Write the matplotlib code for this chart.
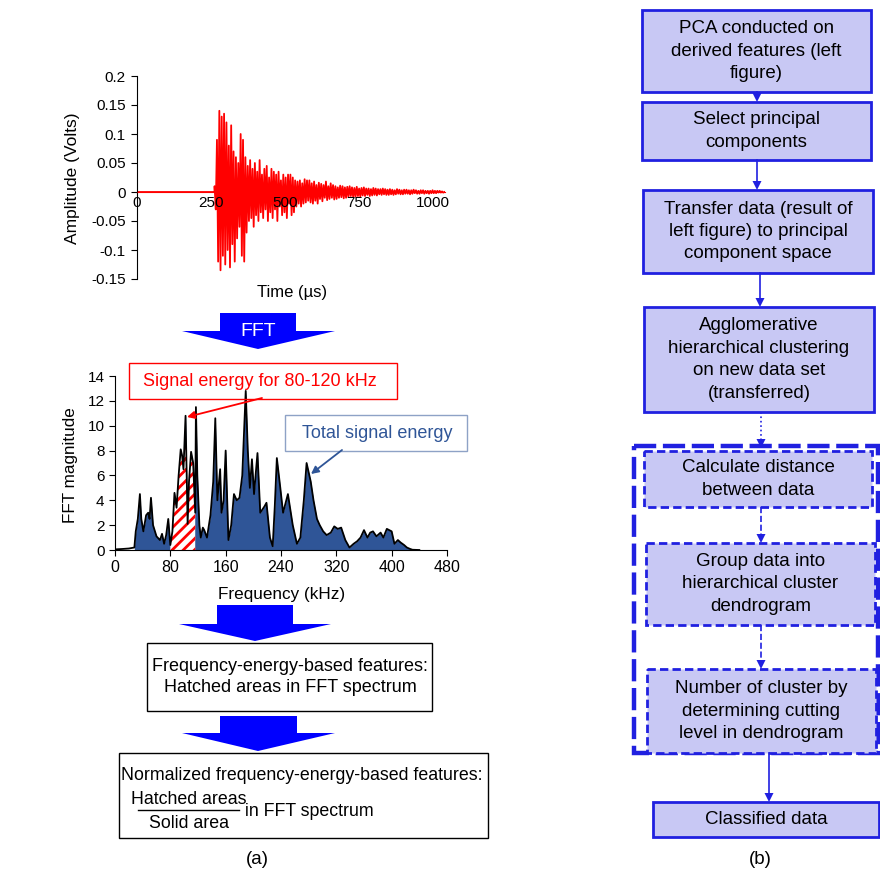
import numpy as np
import matplotlib
matplotlib.use("Agg")
import matplotlib.pyplot as plt
from matplotlib.patches import Polygon, Rectangle, FancyArrowPatch

plt.rcParams['font.family'] = ['Liberation Sans', 'DejaVu Sans']
plt.rcParams['hatch.linewidth'] = 2.0

# ---- acoustic emission waveform (volts), sampled every 4 us from onset ----
onset_us = 262
step_us = 4
amplitude = [
    0.010, -0.030, 0.090, -0.120, 0.140, -0.135, 0.130, -0.110, 0.135, -0.125,
    0.120, -0.100, 0.080, -0.130, 0.115, -0.090, 0.070, -0.120, 0.060, -0.080,
    0.050, -0.060, 0.100, -0.110, 0.090, -0.120, 0.060, -0.070, 0.045, -0.050,
    0.055, -0.045, 0.040, -0.060, 0.050, -0.040, 0.035, -0.050, 0.055, -0.035,
    0.030, -0.045, 0.040, -0.030, 0.045, -0.050, 0.025, -0.035, 0.040, -0.045,
    0.035, -0.030, 0.030, -0.050, 0.035, -0.025, 0.020, -0.040, 0.030, -0.035,
    0.025, -0.045, 0.030, -0.020, 0.030, -0.040, 0.025, -0.035, 0.020, -0.025,
    0.018, -0.020, 0.020, -0.025, 0.015, -0.020, 0.022, -0.018, 0.020, -0.015,
    0.020, -0.018, 0.015, -0.020, 0.018, -0.015, 0.012, -0.020, 0.016, -0.012,
    0.014, -0.016, 0.012, -0.010, 0.018, -0.014, 0.010, -0.012, 0.015, -0.010,
    0.012, -0.013, 0.010, -0.012, 0.008, -0.010, 0.011, -0.009, 0.010, -0.011,
    0.008, -0.010, 0.009, -0.008, 0.010, -0.007, 0.008, -0.009, 0.007, -0.008,
    0.009, -0.007, 0.006, -0.008, 0.007, -0.006, 0.008, -0.007, 0.006, -0.005,
    0.006, -0.007, 0.005, -0.006, 0.007, -0.005, 0.006, -0.006, 0.005, -0.004,
    0.005, -0.005, 0.006, -0.004, 0.005, -0.005, 0.004, -0.005, 0.005, -0.004,
    0.004, -0.005, 0.003, -0.004, 0.005, -0.003, 0.004, -0.004, 0.003, -0.004,
    0.004, -0.003, 0.004, -0.003, 0.003, -0.004, 0.003, -0.003, 0.004, -0.002,
    0.003, -0.003, 0.002, -0.003, 0.003, -0.002, 0.003, -0.003, 0.002, -0.002,
    0.002, -0.003, 0.002, -0.002, 0.003, -0.002, 0.002, -0.002, 0.002, -0.001,
    0.002, -0.001, 0.001, -0.001, 0.000,
]
time_ticks = [0, 250, 500, 750, 1000]
amp_ticks = [-0.15, -0.1, -0.05, 0, 0.05, 0.1, 0.15, 0.2]
amp_labels = ["-0.15", "-0.1", "-0.05", "0", "0.05", "0.1", "0.15", "0.2"]

# ---- FFT spectrum ----
freq_khz = [0, 10, 20, 28, 30, 33, 36, 38, 41, 45, 48, 50, 52, 55, 60, 65, 68, 71, 74, 77,
            80, 83, 86, 89, 92, 95, 97, 99, 102, 104, 105, 107, 110, 113, 116, 117, 119, 122,
            124, 127, 129, 133, 138, 142, 145, 148, 152, 154, 157, 160, 164, 168, 172, 176,
            180, 184, 189, 192, 195, 198, 201, 206, 210, 216, 219, 224, 228, 231, 234, 239,
            243, 250, 257, 263, 268, 273, 277, 283, 287, 292, 296, 301, 306, 312, 317, 322,
            327, 333, 339, 345, 350, 355, 360, 365, 369, 373, 378, 384, 388, 393, 400, 404,
            409, 413, 418, 422, 426, 430, 440]
fft_mag = [0.05, 0.08, 0.12, 0.2, 1.5, 2.5, 4.5, 2.5, 1.5, 2.8, 3.0, 2.5, 4.2, 2.0, 1.1, 0.8, 1.3, 0.5, 1.2, 2.5,
           0.4, 1.5, 4.6, 3.4, 6.0, 8.1, 7.6, 6.5, 10.8, 5.0, 2.1, 5.5, 7.9, 7.0, 3.0, 11.5, 6.0, 2.0,
           1.0, 1.8, 1.6, 1.0, 2.8, 5.5, 10.6, 4.0, 6.5, 3.0, 4.0, 8.0, 0.8, 2.0, 4.5, 4.0,
           4.2, 6.0, 12.8, 8.0, 5.0, 7.3, 4.5, 7.8, 3.0, 3.5, 3.8, 1.0, 0.3, 3.5, 7.4, 5.0,
           3.0, 4.5, 2.0, 0.5, 1.0, 4.0, 7.0, 5.5, 4.0, 2.5, 2.0, 1.5, 1.2, 1.4, 1.9, 1.7,
           1.8, 0.8, 0.2, 0.5, 0.7, 1.0, 1.6, 1.0, 1.4, 1.5, 1.1, 1.4, 1.0, 1.7, 1.5, 0.5,
           0.8, 0.6, 0.4, 0.2, 0.1, 0.02, 0.0]
band_lo, band_hi = 80, 116
freq_ticks = [0, 80, 160, 240, 320, 400, 480]
mag_ticks = [0, 2, 4, 6, 8, 10, 12, 14]

# ---- flowchart (pixel boxes: x0, y0, x1, y1) ----
flow_text = [
    "PCA conducted on\nderived features (left\nfigure)",
    "Select principal\ncomponents",
    "Transfer data (result of\nleft figure) to principal\ncomponent space",
    "Agglomerative\nhierarchical clustering\non new data set\n(transferred)",
    "Calculate distance\nbetween data",
    "Group data into\nhierarchical cluster\ndendrogram",
    "Number of cluster by\ndetermining cutting\nlevel in dendrogram",
    "Classified data",
]
flow_boxes = [(642, 10, 871, 92), (642, 102, 871, 160), (643, 190, 873, 273),
              (644, 307, 874, 412), (644, 451, 872, 507), (646, 543, 875, 625),
              (647, 669, 876, 753), (653, 802, 879, 837)]
flow_dashed = [False, False, False, False, True, True, True, False]
flow_arrows = [(757, 92, 102, '-'), (757, 160, 190, '-'), (760, 273, 307, '-'),
               (761, 412, 448, ':'), (761, 507, 543, '--'), (761, 625, 669, '--'),
               (769, 753, 802, '-')]

W, H = 880, 876
fig = plt.figure(figsize=(W / 100, H / 100), dpi=100)
fig.patch.set_facecolor('white')


def frac(x0, y0, x1, y1):
    return [x0 / W, 1 - y1 / H, (x1 - x0) / W, (y1 - y0) / H]


# waveform
t = np.concatenate([[0, onset_us], onset_us + step_us * np.arange(len(amplitude))])
v = np.concatenate([[0, 0], amplitude])
ax1 = fig.add_axes(frac(137, 76, 445, 279))
ax1.plot(t, v, color='#ff0000', lw=1.3)
ax1.set_xlim(0, 1040)
ax1.set_ylim(-0.15, 0.2)
ax1.set_axisbelow(False)
ax1.spines['top'].set_visible(False)
ax1.spines['right'].set_visible(False)
ax1.spines['bottom'].set_position(('data', 0))
ax1.spines['bottom'].set_color('#ff0000')
ax1.set_xticks(time_ticks)
ax1.set_yticks(amp_ticks)
ax1.set_yticklabels(amp_labels)
ax1.tick_params(axis='y', direction='out', length=4, labelsize=11, pad=4)
ax1.tick_params(axis='x', length=0, labelsize=11, pad=3)

# spectrum
f = np.array(freq_khz)
m = np.array(fft_mag)
ax2 = fig.add_axes(frac(115, 376, 447, 550))
ax2.fill_between(f, 0, m, where=(f >= 28), color='#2f5597', lw=0, zorder=1)
ax2.fill_between(f, 0, m, where=(f >= band_lo) & (f <= band_hi), facecolor='white',
                 edgecolor='#ff0000', hatch='///', lw=0, zorder=2)
ax2.plot(f, m, color='black', lw=1.3, zorder=3)
ax2.set_xlim(0, 480)
ax2.set_ylim(0, 14)
ax2.set_xticks(freq_ticks)
ax2.set_yticks(mag_ticks)
ax2.spines['top'].set_visible(False)
ax2.spines['right'].set_visible(False)
ax2.tick_params(direction='out', length=4, labelsize=11)
ax2.tick_params(axis='x', labelsize=11.5)

# overlay in pixel coordinates for labels, arrows and boxes
ov = fig.add_axes([0, 0, 1, 1], zorder=10)
ov.set_xlim(0, W)
ov.set_ylim(H, 0)
ov.axis('off')
ov.patch.set_alpha(0)

ov.text(73, 178, "Amplitude (Volts)", rotation=90, ha='center', va='center', fontsize=12.5)
ov.text(292, 292, "Time (\u00b5s)", ha='center', va='center', fontsize=12)
ov.text(70, 465, "FFT magnitude", rotation=90, ha='center', va='center', fontsize=12.3)
ov.text(282, 594, "Frequency (kHz)", ha='center', va='center', fontsize=12.3)

# callouts on the spectrum
ov.add_patch(Rectangle((129, 363), 268, 36, fill=False, edgecolor='#ff0000', lw=1.0))
ov.text(260, 381, "Signal energy for 80-120 kHz", ha='center', va='center',
        fontsize=13, color='#ff0000')
ov.add_patch(FancyArrowPatch((262, 398), (187, 417), arrowstyle='-|>', mutation_scale=11,
                             color='#ff0000', lw=1.3, shrinkA=0, shrinkB=0))
ov.add_patch(Rectangle((285, 415), 182, 36, fill=False, edgecolor='#8ea2c6', lw=1.0))
ov.text(377, 433, "Total signal energy", ha='center', va='center',
        fontsize=13, color='#2f5597')
ov.add_patch(FancyArrowPatch((342, 450), (311, 474), arrowstyle='-|>', mutation_scale=11,
                             color='#2f5597', lw=1.3, shrinkA=0, shrinkB=0))


def block_arrow(top, shaft, head_y, head, tip):
    sx0, sx1 = shaft
    hx0, hx1 = head
    pts = [(sx0, top), (sx1, top), (sx1, head_y), (hx1, head_y), tip, (hx0, head_y), (sx0, head_y)]
    ov.add_patch(Polygon(pts, closed=True, color='#0000ff', lw=0))


block_arrow(313, (220, 296), 331, (182, 335), (258, 349))
ov.text(258, 331, "FFT", ha='center', va='center', fontsize=14, color='white')
block_arrow(605, (217, 293), 624, (179, 331), (255, 641))
block_arrow(716, (220, 297), 733, (182, 335), (258, 751))

ov.add_patch(Rectangle((147, 643), 285, 68, fill=False, edgecolor='black', lw=1.0))
ov.text(290, 677, "Frequency-energy-based features:\nHatched areas in FFT spectrum",
        ha='center', va='center', fontsize=13, linespacing=1.3)
ov.add_patch(Rectangle((119, 753), 369, 85, fill=False, edgecolor='black', lw=1.0))
ov.text(302, 775, "Normalized frequency-energy-based features:", ha='center', va='center',
        fontsize=12.8)
ov.text(189, 799, "Hatched areas", ha='center', va='center', fontsize=12.8)
ov.plot([138, 239], [810, 810], color='black', lw=1.0)
ov.text(189, 823, "Solid area", ha='center', va='center', fontsize=12.8)
ov.text(245, 811, "in FFT spectrum", ha='left', va='center', fontsize=12.8)
ov.text(257, 860, "(a)", ha='center', va='center', fontsize=13.5)

# flowchart
blue = '#2020e0'
ov.add_patch(Rectangle((634, 446), 244, 307, fill=False, edgecolor=blue, lw=3.2,
                       linestyle=(0, (5, 1.5))))
for (x0, y0, x1, y1), txt, dashed in zip(flow_boxes, flow_text, flow_dashed):
    ls = (0, (3, 1.5)) if dashed else '-'
    ov.add_patch(Rectangle((x0, y0), x1 - x0, y1 - y0, facecolor='#c8c8f4',
                           edgecolor=blue, lw=2.0, linestyle=ls))
    ov.text((x0 + x1) / 2, (y0 + y1) / 2, txt, ha='center', va='center',
            fontsize=13.5, linespacing=1.42)
for x, ya, yb, ls in flow_arrows:
    ov.plot([x, x], [ya, yb - 6], color=blue, lw=1.2, linestyle=ls)
    ov.add_patch(Polygon([(x - 4.5, yb - 9), (x + 4.5, yb - 9), (x, yb)], closed=True,
                         color=blue, lw=0))
ov.text(760, 860, "(b)", ha='center', va='center', fontsize=13.5)

fig.savefig("out.png", dpi=100)
